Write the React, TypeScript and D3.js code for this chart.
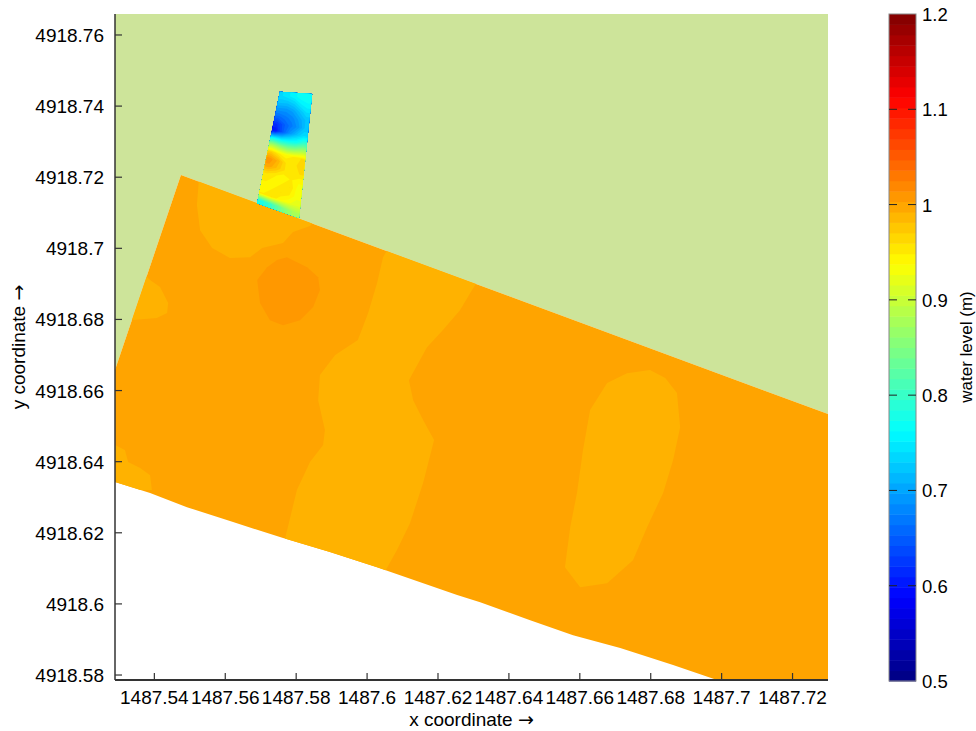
import React from "react";
import * as d3 from "d3";

type Pt = [number, number];

// Axis extents and ticks (model coordinates)
const X_EXTENT: Pt = [1487.5289, 1487.73];
const Y_EXTENT: Pt = [4918.5786, 4918.7659];
const X_TICKS = [1487.54, 1487.56, 1487.58, 1487.6, 1487.62, 1487.64, 1487.66, 1487.68, 1487.7, 1487.72];
const Y_TICKS = [4918.58, 4918.6, 4918.62, 4918.64, 4918.66, 4918.68, 4918.7, 4918.72, 4918.74, 4918.76];

// Water level colour range and colour bar ticks
const LEVEL_EXTENT: Pt = [0.5, 1.2];
const LEVEL_TICKS = [0.5, 0.6, 0.7, 0.8, 0.9, 1, 1.1, 1.2];
const LEVEL_BANDS = 64;

// Dry bank surrounding the basin (drawn with a flat fill)
const DRY_AREA: Pt[] = [
  [1487.5289, 4918.7659],
  [1487.73, 4918.7659],
  [1487.73, 4918.6534],
  [1487.5475, 4918.7206],
  [1487.5289, 4918.6658],
];

// Wet basin outline
const BASIN: Pt[] = [
  [1487.5475, 4918.7206],
  [1487.73, 4918.6534],
  [1487.73, 4918.5786],
  [1487.6987, 4918.5786],
  [1487.6863, 4918.5828],
  [1487.6714, 4918.5876],
  [1487.6581, 4918.5912],
  [1487.646, 4918.5954],
  [1487.6319, 4918.6005],
  [1487.6254, 4918.6025],
  [1487.6028, 4918.6103],
  [1487.5895, 4918.6146],
  [1487.5763, 4918.6185],
  [1487.5622, 4918.623],
  [1487.5492, 4918.6272],
  [1487.5388, 4918.6312],
  [1487.5289, 4918.6343],
  [1487.5289, 4918.6658],
];
const BASIN_LEVEL = 1.0;

// Areas of slightly lower water level inside the basin
const LOW_LEVEL = 0.99;
const LOW_BAND_CENTRE: Pt[] = [
  [1487.6065, 4918.7009],
  [1487.6045, 4918.6975],
  [1487.6028, 4918.6902],
  [1487.6003, 4918.6818],
  [1487.5974, 4918.6742],
  [1487.591, 4918.67],
  [1487.5867, 4918.6644],
  [1487.5862, 4918.6573],
  [1487.5881, 4918.6489],
  [1487.5876, 4918.6447],
  [1487.5839, 4918.6399],
  [1487.5802, 4918.632],
  [1487.5769, 4918.6185],
  [1487.5754, 4918.6123],
  [1487.6037, 4918.6067],
  [1487.6084, 4918.6151],
  [1487.6121, 4918.6227],
  [1487.6158, 4918.634],
  [1487.6189, 4918.6461],
  [1487.6158, 4918.6517],
  [1487.613, 4918.6573],
  [1487.6118, 4918.6629],
  [1487.6169, 4918.6722],
  [1487.6214, 4918.677],
  [1487.6262, 4918.6826],
  [1487.6296, 4918.6883],
  [1487.6333, 4918.6939],
];
const LOW_PATCH_NORTH: Pt[] = [
  [1487.5529, 4918.7234],
  [1487.552, 4918.7122],
  [1487.5529, 4918.7051],
  [1487.5563, 4918.7001],
  [1487.5613, 4918.6973],
  [1487.567, 4918.6975],
  [1487.5704, 4918.7001],
  [1487.5763, 4918.7015],
  [1487.5791, 4918.7046],
  [1487.5839, 4918.7063],
  [1487.5867, 4918.7094],
];
const LOW_PATCH_WEST: Pt[] = [
  [1487.536, 4918.6939],
  [1487.5388, 4918.6911],
  [1487.5416, 4918.6891],
  [1487.5439, 4918.6846],
  [1487.5436, 4918.6818],
  [1487.5407, 4918.6804],
  [1487.5331, 4918.6798],
];
const LOW_PATCH_SOUTHWEST: Pt[] = [
  [1487.5289, 4918.6447],
  [1487.5317, 4918.6433],
  [1487.5326, 4918.6399],
  [1487.536, 4918.6382],
  [1487.5388, 4918.6362],
  [1487.5393, 4918.632],
  [1487.5289, 4918.632],
];
const LOW_PATCH_EAST: Pt[] = [
  [1487.6798, 4918.6658],
  [1487.6841, 4918.6635],
  [1487.6874, 4918.6593],
  [1487.6883, 4918.6497],
  [1487.6863, 4918.6404],
  [1487.6835, 4918.6312],
  [1487.679, 4918.6216],
  [1487.675, 4918.6123],
  [1487.6677, 4918.6058],
  [1487.6601, 4918.6047],
  [1487.6558, 4918.6103],
  [1487.6573, 4918.6216],
  [1487.6592, 4918.6312],
  [1487.6609, 4918.6433],
  [1487.6629, 4918.6545],
  [1487.6677, 4918.6621],
  [1487.6733, 4918.6649],
];

// Area of slightly higher water level
const HIGH_LEVEL = 1.008;
const HIGH_PATCH: Pt[] = [
  [1487.5774, 4918.6975],
  [1487.5831, 4918.6947],
  [1487.5862, 4918.6919],
  [1487.5867, 4918.6883],
  [1487.5848, 4918.6835],
  [1487.5811, 4918.6798],
  [1487.5763, 4918.6784],
  [1487.5726, 4918.6798],
  [1487.5698, 4918.6846],
  [1487.569, 4918.6911],
  [1487.5718, 4918.6947],
  [1487.5746, 4918.6967],
];

// Inlet channel: corners (top-left, top-right, bottom-right, bottom-left)
const INLET_CORNERS: Pt[] = [
  [1487.5754, 4918.744],
  [1487.5845, 4918.7434],
  [1487.5808, 4918.7085],
  [1487.569, 4918.7127],
];
// Inlet water levels, rows from the upstream end, columns from the left bank
const INLET_LEVELS: number[][] = [
  [0.74, 0.75, 0.76, 0.77, 0.77],
  [0.72, 0.72, 0.73, 0.75, 0.76],
  [0.69, 0.69, 0.7, 0.72, 0.74],
  [0.66, 0.67, 0.68, 0.7, 0.72],
  [0.62, 0.65, 0.67, 0.69, 0.72],
  [0.6, 0.65, 0.69, 0.72, 0.74],
  [0.76, 0.75, 0.76, 0.77, 0.8],
  [0.88, 0.86, 0.85, 0.86, 0.88],
  [0.97, 0.95, 0.94, 0.95, 0.96],
  [1.01, 0.99, 0.96, 0.95, 0.97],
  [1.0, 0.98, 0.96, 0.95, 0.96],
  [0.96, 0.95, 0.94, 0.95, 0.94],
  [0.95, 0.94, 0.95, 0.96, 0.93],
  [0.94, 0.95, 0.96, 0.95, 0.93],
  [0.95, 0.96, 0.94, 0.93, 0.92],
  [0.78, 0.8, 0.83, 0.86, 0.88],
];

const DRY_FILL = "#cde49a";
const FONT = "'Liberation Sans', Arial, Helvetica, sans-serif";

export default function App() {
  const W = 976;
  const H = 731;
  const plot = { left: 115, right: 828, top: 14, bottom: 680 };
  const bar = { left: 889, right: 916, top: 14, bottom: 681 };

  const x = d3.scaleLinear().domain(X_EXTENT).range([plot.left, plot.right]);
  const y = d3.scaleLinear().domain(Y_EXTENT).range([plot.bottom, plot.top]);
  const lv = d3.scaleLinear().domain(LEVEL_EXTENT).range([bar.bottom, bar.top]);

  // jet colour map over the level range
  const [l0, l1] = LEVEL_EXTENT;
  const span = l1 - l0;
  const jet = d3
    .scaleLinear<string>()
    .domain([0, 0.125, 0.375, 0.625, 0.875, 1].map((t) => l0 + t * span))
    .range(["#000080", "#0000ff", "#00ffff", "#ffff00", "#ff0000", "#800000"])
    .interpolate(d3.interpolateRgb)
    .clamp(true);

  const line = d3
    .line<Pt>()
    .x((d) => x(d[0]))
    .y((d) => y(d[1]));
  const ring = (pts: Pt[]) => (line(pts) || "") + "Z";

  // Inlet contour fill: grid padded by one cell so contours reach the edges
  const nCols = INLET_LEVELS[0].length;
  const nRows = INLET_LEVELS.length;
  const padRow = (r: number[]) => [r[0], ...r, r[r.length - 1]];
  const padded = [
    padRow(INLET_LEVELS[0]),
    ...INLET_LEVELS.map(padRow),
    padRow(INLET_LEVELS[nRows - 1]),
  ];
  const step = span / LEVEL_BANDS;
  const thresholds = d3.range(LEVEL_BANDS).map((i) => l0 + i * step);
  const bands = d3
    .contours()
    .size([nCols + 2, nRows + 2])
    .thresholds(thresholds)(padded.flat());
  const [TL, TR, BR, BL] = INLET_CORNERS;
  const gridToPx = (g: number[]): string => {
    const u = (g[0] - 1) / nCols;
    const v = (g[1] - 1) / nRows;
    const gx = (1 - v) * ((1 - u) * TL[0] + u * TR[0]) + v * ((1 - u) * BL[0] + u * BR[0]);
    const gy = (1 - v) * ((1 - u) * TL[1] + u * TR[1]) + v * ((1 - u) * BL[1] + u * BR[1]);
    return `${x(gx).toFixed(2)},${y(gy).toFixed(2)}`;
  };
  const bandPaths = bands
    .filter((b) => b.coordinates.length > 0)
    .map((b) => ({
      value: b.value,
      d: b.coordinates
        .map((poly) => poly.map((r) => "M" + r.map(gridToPx).join("L") + "Z").join(""))
        .join(""),
    }));

  const fmt = d3.format(".2~f");
  const lowZones = [LOW_BAND_CENTRE, LOW_PATCH_NORTH, LOW_PATCH_WEST, LOW_PATCH_SOUTHWEST, LOW_PATCH_EAST];

  return (
    <svg
      width={W}
      height={H}
      viewBox={`0 0 ${W} ${H}`}
      style={{ position: "absolute", left: 0, top: 0, background: "#fff" }}
    >
      <defs>
        <clipPath id="plot-clip">
          <rect x={plot.left} y={plot.top} width={plot.right - plot.left} height={plot.bottom - plot.top} />
        </clipPath>
        <clipPath id="basin-clip">
          <path d={ring(BASIN)} />
        </clipPath>
        <clipPath id="inlet-clip">
          <path d={ring(INLET_CORNERS)} />
        </clipPath>
      </defs>

      <g clipPath="url(#plot-clip)">
        <path d={ring(DRY_AREA)} fill={DRY_FILL} />
        <path d={ring(BASIN)} fill={jet(BASIN_LEVEL)} />
        <g clipPath="url(#basin-clip)">
          {lowZones.map((z, i) => (
            <path key={i} d={ring(z)} fill={jet(LOW_LEVEL)} />
          ))}
          <path d={ring(HIGH_PATCH)} fill={jet(HIGH_LEVEL)} />
        </g>
        <g clipPath="url(#inlet-clip)">
          {bandPaths.map((b, i) => (
            <path key={i} d={b.d} fill={jet(b.value + step / 2)} fillRule="evenodd" />
          ))}
        </g>
      </g>

      {/* y axis */}
      <g fontFamily={FONT} fontSize={19} fill="#000">
        <line x1={plot.left} x2={plot.left} y1={plot.top} y2={plot.bottom} stroke="#333" strokeWidth={1.5} />
        {Y_TICKS.map((t) => (
          <g key={t}>
            <line x1={plot.left} x2={plot.left + 7} y1={y(t)} y2={y(t)} stroke="#333" strokeWidth={1.2} />
            <text x={plot.left - 11} y={y(t) + 7} textAnchor="end">
              {fmt(t)}
            </text>
          </g>
        ))}
      </g>

      {/* x axis */}
      <g fontFamily={FONT} fontSize={19} fill="#000">
        <line x1={plot.left} x2={plot.right} y1={plot.bottom} y2={plot.bottom} stroke="#333" strokeWidth={2} />
        {X_TICKS.map((t) => (
          <g key={t}>
            <line x1={x(t)} x2={x(t)} y1={plot.bottom} y2={plot.bottom - 7} stroke="#333" strokeWidth={1.2} />
            <text x={x(t)} y={plot.bottom + 24} textAnchor="middle">
              {fmt(t)}
            </text>
          </g>
        ))}
      </g>

      <text
        x={(plot.left + plot.right) / 2}
        y={726}
        textAnchor="middle"
        fontFamily={FONT}
        fontSize={19}
        fill="#000"
      >
        x coordinate <tspan fontFamily="'DejaVu Sans', sans-serif">→</tspan>
      </text>
      <text
        transform={`translate(25, ${(plot.top + plot.bottom) / 2}) rotate(-90)`}
        textAnchor="middle"
        fontFamily={FONT}
        fontSize={19}
        fill="#000"
      >
        y coordinate <tspan fontFamily="'DejaVu Sans', sans-serif">→</tspan>
      </text>

      {/* colour bar */}
      <g>
        {d3.range(LEVEL_BANDS).map((i) => {
          const a = l0 + i * step;
          const b = a + step;
          return (
            <rect
              key={i}
              x={bar.left}
              width={bar.right - bar.left}
              y={lv(b)}
              height={lv(a) - lv(b) + 0.5}
              fill={jet(a + step / 2)}
            />
          );
        })}
        <rect
          x={bar.left}
          y={bar.top}
          width={bar.right - bar.left}
          height={bar.bottom - bar.top}
          fill="none"
          stroke="#888"
          strokeWidth={1}
        />
        {LEVEL_TICKS.map((t) => (
          <g key={t}>
            {t > l0 && t < l1 && (
              <>
                <line x1={bar.left} x2={bar.left + 8} y1={lv(t)} y2={lv(t)} stroke="#222" strokeWidth={1} />
                <line x1={bar.right - 8} x2={bar.right} y1={lv(t)} y2={lv(t)} stroke="#222" strokeWidth={1} />
              </>
            )}
            <text x={bar.right + 6} y={lv(t) + 7} fontFamily={FONT} fontSize={18.5} fill="#000">
              {fmt(t)}
            </text>
          </g>
        ))}
      </g>
      <text
        transform={`translate(972, ${(plot.top + plot.bottom) / 2}) rotate(-90)`}
        textAnchor="middle"
        fontFamily={FONT}
        fontSize={17}
        fill="#000"
      >
        water level (m)
      </text>
    </svg>
  );
}
